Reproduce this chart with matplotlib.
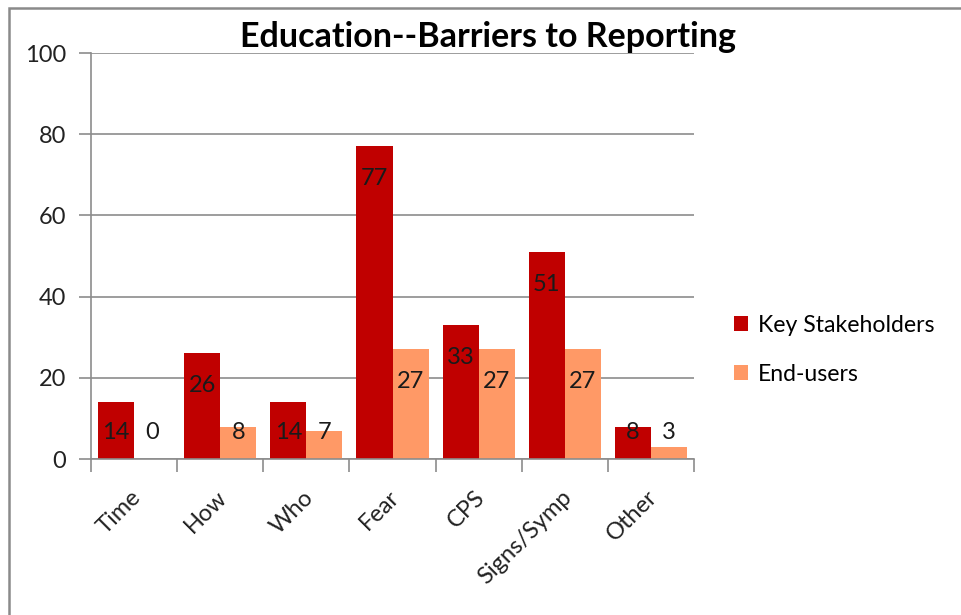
import matplotlib
matplotlib.use("Agg")
import matplotlib.pyplot as plt
import numpy as np
from matplotlib.patches import Rectangle

categories = ["Time", "How", "Who", "Fear", "CPS", "Signs/Symp", "Other"]
key_stakeholders = [14, 26, 14, 77, 33, 51, 8]
end_users = [0, 8, 7, 27, 27, 27, 3]

KEY_COLOR = "#C00000"
END_COLOR = "#FF9966"
GRID_COLOR = "#8C8C8C"

plt.rcParams["font.family"] = ["Lato", "DejaVu Sans"]

W, H = 961, 615
fig = plt.figure(figsize=(W / 100, H / 100), dpi=100)

# chart frame (the lower and right edges run off the page)
fig.patches.append(Rectangle((9 / W, -0.1), 1.2, (H - 8) / H + 0.1,
                             transform=fig.transFigure, fill=False,
                             edgecolor="#8A8A8A", linewidth=1.8))

ax = fig.add_axes([91 / W, (H - 459) / H, (694 - 91) / W, (459 - 53) / H])

x = np.arange(len(categories))
bw = 0.419
ax.bar(x - bw / 2, key_stakeholders, bw, color=KEY_COLOR, label="Key Stakeholders", zorder=2)
ax.bar(x + bw / 2, end_users, bw, color=END_COLOR, label="End-users", zorder=2)

# value labels sit just inside the bar top, but never lower than the base band
for xs, vals in ((x - bw / 2, key_stakeholders), (x + bw / 2, end_users)):
    for xi, v in zip(xs, vals):
        ax.text(xi, max(v - 7.9, 6.6), str(v), ha="center", va="center",
                fontsize=17, color="#1a1a1a", zorder=3)

ax.set_xlim(-0.5, len(categories) - 0.5)
ax.set_ylim(0, 100)
ax.set_yticks(range(0, 101, 20))
ax.yaxis.grid(True, color=GRID_COLOR, linewidth=1.2, zorder=0)
ax.set_axisbelow(True)

ax.set_xticks(np.arange(len(categories) + 1) - 0.5, minor=False)
ax.set_xticklabels([])
ax.tick_params(axis="x", length=9, color=GRID_COLOR, width=1.2)
ax.tick_params(axis="y", length=9, color=GRID_COLOR, width=1.2, labelsize=17, pad=9)
for lbl in ax.get_yticklabels():
    lbl.set_color("#222222")

for i, name in enumerate(categories):
    ax.text(i + 0.04, -8.6, name, rotation=45, rotation_mode="anchor",
            ha="right", va="center", fontsize=17, color="#222222")

for side in ("top", "right"):
    ax.spines[side].set_visible(False)
for side in ("left", "bottom"):
    ax.spines[side].set_color(GRID_COLOR)
    ax.spines[side].set_linewidth(1.2)

fig.text(488 / W, (H - 37) / H, "Education--Barriers to Reporting",
         ha="center", va="center", fontsize=24.5, fontweight="bold", color="black")

fig.legend(loc="upper left", bbox_to_anchor=(734 / W, (H - 315) / H),
           frameon=False, fontsize=16.6, handlelength=0.62, handleheight=0.62,
           handletextpad=0.42, labelspacing=1.2, borderpad=0, borderaxespad=0)

fig.savefig("out.png", dpi=100, facecolor="white")
